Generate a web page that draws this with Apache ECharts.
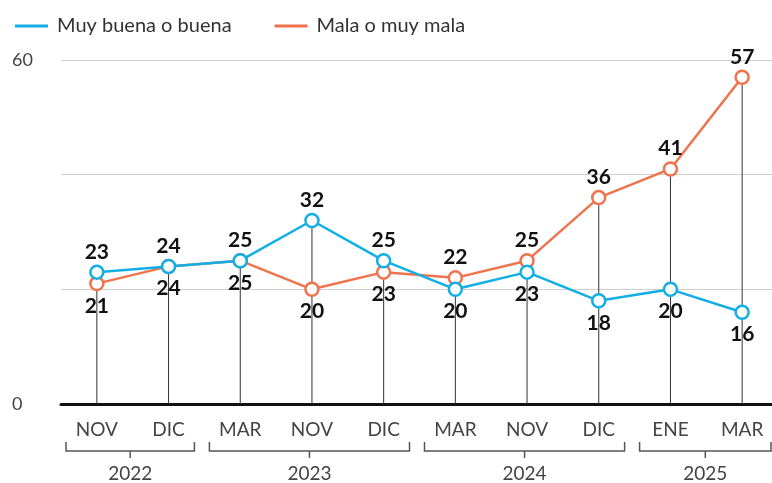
<!DOCTYPE html>
<html>
<head>
<meta charset="utf-8">
<script src="https://cdn.jsdelivr.net/npm/echarts@6/dist/echarts.min.js"></script>
<style>
  html, body { margin: 0; padding: 0; background: #fff; }
  #chart { width: 772px; height: 483px; }
</style>
</head>
<body>
<div id="chart"></div>
<script>
// categorías y valores
const months = ['NOV', 'DIC', 'MAR', 'NOV', 'DIC', 'MAR', 'NOV', 'DIC', 'ENE', 'MAR'];
const buena = [23, 24, 25, 32, 25, 20, 23, 18, 20, 16];
const mala = [21, 24, 25, 20, 23, 22, 25, 36, 41, 57];
const years = [
    { label: '2022', from: 0, to: 1 },
    { label: '2023', from: 2, to: 4 },
    { label: '2024', from: 5, to: 7 },
    { label: '2025', from: 8, to: 9 }
];

const BLUE = '#12aee6';
const ORANGE = '#ef744d';
const FONT = 'Lato';

const chart = echarts.init(document.getElementById('chart'));

// the higher point gets its label above, the lower one below
function withLabels(values, others, winsTie) {
    return values.map((v, i) => {
        const above = v > others[i] || (v === others[i] && winsTie);
        return {
            value: v,
            label: { position: above ? 'top' : 'bottom', distance: above ? 2 : 4 }
        };
    });
}

const dropLines = buena.map((v, i) => Math.max(v, mala[i]));

const labelStyle = {
    show: true,
    color: '#111',
    fontFamily: FONT,
    fontWeight: 'bold',
    fontSize: 21
};

chart.setOption({
    animation: false,
    textStyle: { fontFamily: FONT },
    legend: {
        left: 10,
        top: 11,
        icon: 'rect',
        itemWidth: 33,
        itemHeight: 3,
        itemGap: 43,
        textStyle: { fontSize: 20, color: '#333', fontFamily: FONT, padding: [0, 0, 0, 4] },
        data: [
            { name: 'Muy buena o buena', itemStyle: { color: BLUE, borderWidth: 0 } },
            { name: 'Mala o muy mala', itemStyle: { color: ORANGE, borderWidth: 0 } }
        ]
    },
    // the plot runs a little past the right edge of the window
    grid: { left: 61, right: -6, top: 60, bottom: 79, outerBoundsMode: 'none' },
    xAxis: {
        type: 'category',
        data: months,
        boundaryGap: true,
        axisLine: { lineStyle: { color: '#111', width: 3 } },
        axisTick: { show: false },
        axisLabel: { color: '#444', fontSize: 19, margin: 16, fontFamily: FONT }
    },
    yAxis: {
        type: 'value',
        min: 0,
        max: 60,
        interval: 20,
        axisLine: { show: false },
        axisTick: { show: false },
        splitLine: { lineStyle: { color: '#d0d0d0', width: 1 } },
        axisLabel: {
            color: '#444',
            fontSize: 18,
            align: 'left',
            margin: 49,
            fontFamily: FONT,
            formatter: v => (v === 0 || v === 60 ? String(v) : '')
        }
    },
    series: [
        {
            name: 'drop',
            type: 'bar',
            data: dropLines,
            barWidth: 1,
            itemStyle: { color: '#333' },
            silent: true,
            z: 1
        },
        {
            name: 'Mala o muy mala',
            type: 'line',
            data: withLabels(mala, buena, false),
            symbol: 'circle',
            symbolSize: 13,
            lineStyle: { color: ORANGE, width: 2.5 },
            itemStyle: { color: '#fff', borderColor: ORANGE, borderWidth: 2.5 },
            label: labelStyle,
            z: 3
        },
        {
            name: 'Muy buena o buena',
            type: 'line',
            data: withLabels(buena, mala, true),
            symbol: 'circle',
            symbolSize: 13,
            lineStyle: { color: BLUE, width: 2.5 },
            itemStyle: { color: '#fff', borderColor: BLUE, borderWidth: 2.5 },
            label: labelStyle,
            z: 4
        }
    ]
});

// year brackets under the month labels
function drawYears() {
    const step = chart.convertToPixel({ xAxisIndex: 0 }, 1) - chart.convertToPixel({ xAxisIndex: 0 }, 0);
    const yTop = 442;
    const yLine = 451;
    const elements = [];
    years.forEach((g, i) => {
        const x0 = chart.convertToPixel({ xAxisIndex: 0 }, g.from) - step / 2 + 5;
        let x1 = chart.convertToPixel({ xAxisIndex: 0 }, g.to) + step / 2 - 10;
        if (i === years.length - 1) x1 = 771;
        const mid = (x0 + x1) / 2;
        elements.push({
            type: 'polyline',
            shape: { points: [[x0, yTop], [x0, yLine], [x1, yLine], [x1, yTop]] },
            style: { stroke: '#555', lineWidth: 1.5, fill: null }
        });
        elements.push({
            type: 'line',
            shape: { x1: mid, y1: yLine, x2: mid, y2: yLine + 7 },
            style: { stroke: '#555', lineWidth: 1.5 }
        });
        elements.push({
            type: 'text',
            x: mid,
            y: 474,
            style: {
                text: g.label,
                fill: '#444',
                fontSize: 19,
                fontFamily: FONT,
                align: 'center',
                verticalAlign: 'middle'
            }
        });
    });
    chart.setOption({ graphic: elements });
}
drawYears();
</script>
</body>
</html>
